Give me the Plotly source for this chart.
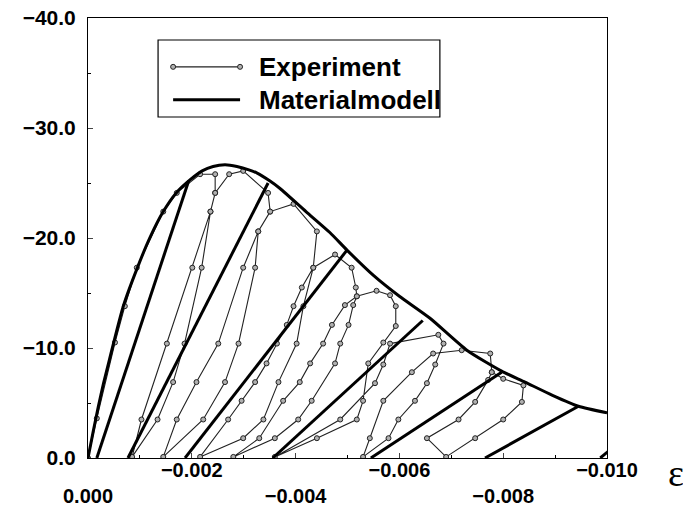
import plotly.graph_objects as go

# Material model envelope (strain in per mille, stress in MPa, compression shown negative)
env_eps = [0, 0.1, 0.2, 0.3, 0.4, 0.49, 0.68, 0.96, 1.2, 1.45, 1.7, 1.97, 2.2, 2.41, 2.64, 2.87,
           3.1, 3.26, 3.5, 3.7, 4.2, 4.66, 4.99, 5.5, 6.0, 6.59, 7.3, 7.97, 8.42, 8.95, 9.45, 10.0]
env_sig = [0, 2.4, 4.7, 6.8, 8.7, 10.4, 13.8, 17.4, 20.1, 22.4, 24.1, 25.3, 26.1, 26.5, 26.65, 26.5,
           26.2, 25.9, 25.2, 24.5, 22.4, 20.5, 18.9, 16.6, 14.7, 12.7, 9.8, 7.9, 6.9, 5.7, 4.7, 4.1]

# Material model unloading lines: (strain at envelope, stress at envelope, residual strain)
unl_top_eps = [1.94, 3.47, 4.99, 6.45, 7.97, 9.45, 10.2]
unl_top_sig = [25.2, 25.0, 18.9, 12.5, 7.8, 4.7, 1.3]
unl_res_eps = [0.17, 0.77, 1.87, 3.56, 5.45, 7.65, 9.87]

# Experiment (one continuous path of loading / unloading / reloading)
exp_eps = [0, 0.17, 0.52, 0.71, 0.94, 1.45, 1.71, 2.16, 2.45,
           2.45, 2.36, 2.19, 1.86, 1.64, 1.34, 0.85,
           1.03, 1.52, 2.01, 2.36, 2.45, 2.72, 2.99, 3.47, 3.51,
           3.28, 3.22, 2.90, 2.64, 2.22, 1.45,
           1.71, 2.09, 2.51, 2.99, 3.28, 3.51, 3.96, 4.41, 4.34,
           4.15, 4.02, 3.67, 3.38, 2.99, 2.16,
           2.70, 2.96, 3.22, 3.44, 3.64, 3.83, 3.96, 4.12, 4.34, 4.76, 5.08, 5.16, 5.18,
           5.11, 5.02, 4.86, 4.76, 4.31, 4.05, 3.60, 2.80,
           3.30, 3.76, 4.08, 4.28, 4.53, 4.70, 4.95, 5.18, 5.56, 5.82, 5.93, 5.93, 5.69,
           5.40, 5.30, 5.18, 4.41, 3.60,
           4.86, 5.53, 5.69, 5.82, 6.75, 6.85,
           6.69, 6.53, 6.30, 5.98, 5.79, 5.30,
           5.43, 5.69, 6.24, 6.65, 7.20, 7.75, 7.78, 8.00, 8.39,
           8.36, 8.00, 7.46, 6.90,
           6.53, 7.14, 7.46, 7.71, 7.78]
exp_sig = [0, 3.6, 10.5, 13.8, 17.3, 22.4, 24.1, 25.8, 25.8,
           24.1, 22.4, 17.3, 10.4, 6.9, 3.5, 0.1,
           3.5, 10.4, 17.3, 22.4, 24.1, 25.8, 26.1, 24.1, 22.4,
           20.6, 17.3, 10.4, 6.9, 3.5, 0.1,
           3.5, 6.9, 10.4, 17.3, 20.6, 22.4, 23.1, 20.6, 17.3,
           13.8, 10.4, 6.9, 3.5, 1.8, 0.1,
           3.5, 5.2, 6.9, 8.6, 10.4, 12.1, 13.8, 15.5, 17.3, 18.5, 17.3, 15.5, 14.7,
           13.9, 12.1, 10.4, 8.6, 5.2, 3.5, 1.8, 0.1,
           1.8, 5.2, 6.9, 8.6, 10.4, 12.1, 13.9, 14.7, 15.2, 14.8, 13.8, 12.0, 10.5,
           8.6, 5.2, 3.5, 1.8, 0.1,
           3.5, 6.8, 8.5, 10.4, 11.2, 10.4,
           8.5, 6.8, 5.2, 3.5, 1.8, 0.1,
           1.8, 5.2, 7.8, 9.5, 9.8, 9.5, 7.8, 7.2, 6.6,
           5.1, 3.5, 1.8, 0.1,
           1.8, 3.5, 5.1, 7.1, 7.8]

x_tick_vals = [0, -0.002, -0.004, -0.006, -0.008, -0.010]
x_tick_text = ["<br><b>0.000</b>", "<b>\u22120.002</b>", "<br><b>\u22120.004</b>",
               "<b>\u22120.006</b>", "<br><b>\u22120.008</b>", "<b>\u22120.010</b>"]
y_tick_vals = [0, -10, -20, -30, -40]
y_tick_text = ["<b>0.0</b>", "<b>\u221210.0</b>", "<b>\u221220.0</b>", "<b>\u221230.0</b>", "<b>\u221240.0</b>"]

fig = go.Figure()

# experiment
fig.add_trace(go.Scatter(
    x=[-e / 1000 for e in exp_eps], y=[-s for s in exp_sig], mode="lines+markers",
    line=dict(color="#222222", width=1.1),
    marker=dict(symbol="circle", size=5, color="#b0b0b0", line=dict(width=1, color="#222222")),
    showlegend=False, cliponaxis=True))

# model envelope
fig.add_trace(go.Scatter(
    x=[-e / 1000 for e in env_eps], y=[-s for s in env_sig], mode="lines",
    line=dict(color="black", width=3, shape="spline", smoothing=0.6), showlegend=False))

# model unloading lines
for te, ts, re_ in zip(unl_top_eps, unl_top_sig, unl_res_eps):
    fig.add_trace(go.Scatter(x=[-re_ / 1000, -te / 1000], y=[0, -ts], mode="lines",
                             line=dict(color="black", width=3), showlegend=False))

x_font = dict(family="Liberation Sans, Arial, sans-serif", size=20, color="black")
y_font = dict(family="Liberation Sans, Arial, sans-serif", size=21, color="black")

fig.update_xaxes(range=[0, -0.010], tickvals=x_tick_vals, ticktext=x_tick_text,
                 ticks="inside", ticklen=5, showline=True, linecolor="black", linewidth=1,
                 mirror=True, showgrid=False, zeroline=False, tickfont=x_font,
                 automargin=False, ticklabelstandoff=-6, ticklabeloverflow="allow",
                 minor=dict(ticks="inside", ticklen=3, dtick=0.001, tickcolor="black"))
fig.update_yaxes(range=[0, -40], tickvals=y_tick_vals, ticktext=y_tick_text,
                 ticks="inside", ticklen=5, showline=True, linecolor="black", linewidth=1,
                 mirror=True, showgrid=False, zeroline=False, tickfont=y_font,
                 automargin=False, ticklabelstandoff=7, ticklabeloverflow="allow",
                 minor=dict(ticks="inside", ticklen=3, dtick=5, tickcolor="black"))

# custom legend (paper coordinates)
LF = dict(family="Liberation Sans, Arial, sans-serif", size=26, color="black")
fig.add_shape(type="rect", xref="paper", yref="paper", x0=0.135, x1=0.678, y0=0.775, y1=0.950,
              line=dict(color="black", width=1.2), fillcolor="white", layer="above")
fig.add_shape(type="line", xref="paper", yref="paper", x0=0.164, x1=0.293, y0=0.889, y1=0.889,
              line=dict(color="#222222", width=1.1), layer="above")
for xc in (0.164, 0.293):
    fig.add_shape(type="circle", xref="paper", yref="paper", x0=xc - 0.0048, x1=xc + 0.0048,
                  y0=0.889 - 0.0057, y1=0.889 + 0.0057, line=dict(color="#222222", width=1),
                  fillcolor="#b0b0b0", layer="above")
fig.add_shape(type="line", xref="paper", yref="paper", x0=0.164, x1=0.293, y0=0.814, y1=0.814,
              line=dict(color="black", width=3), layer="above")
fig.add_annotation(xref="paper", yref="paper", x=0.3256, y=0.889, text="<b>Experiment</b>",
                   showarrow=False, xanchor="left", yanchor="middle", font=LF)
fig.add_annotation(xref="paper", yref="paper", x=0.3256, y=0.814, text="<b>Materialmodell</b>",
                   showarrow=False, xanchor="left", yanchor="middle", font=LF)

# epsilon axis label
fig.add_annotation(xref="paper", yref="paper", x=1.133, y=-0.034, text="\u03b5",
                   showarrow=False, xanchor="center", yanchor="middle",
                   font=dict(family="Liberation Serif, serif", size=38, color="black"))

# page has an 8 px body margin, so the figure is 683x501 and offset by 8 px
fig.update_layout(width=683, height=501, margin=dict(l=80, r=84, t=10, b=51),
                  paper_bgcolor="white", plot_bgcolor="white",
                  font=dict(family="Liberation Sans, Arial, sans-serif", color="black"))

fig.write_html("out.html")
